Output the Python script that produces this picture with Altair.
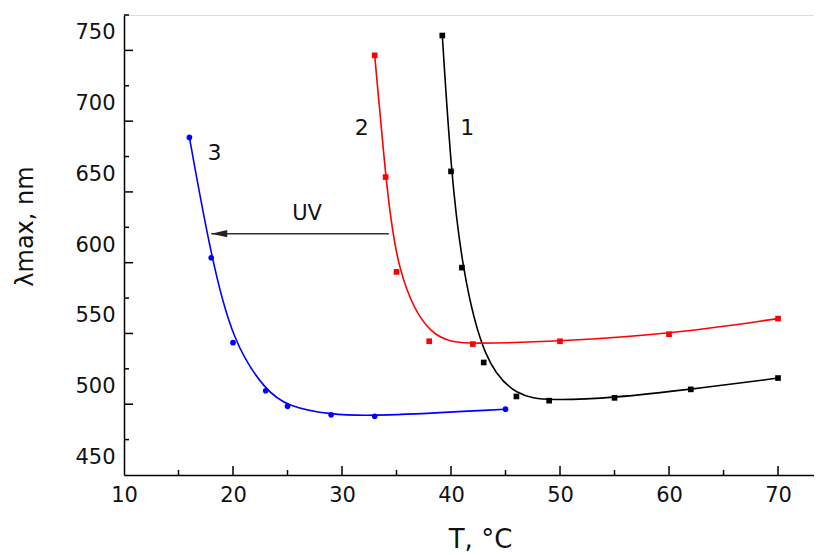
import altair as alt
import pandas as pd

# ---- data ----
black_x = [39.2, 40, 41, 43, 46, 49, 55, 62, 70]
black_y = [748, 652, 584, 517, 493, 490, 492, 498, 506]
red_x = [33, 34, 35, 38, 42, 50, 60, 70]
red_y = [734, 648, 581, 532, 530, 532, 537, 548]
blue_x = [16, 18, 20, 23, 25, 29, 33, 45]
blue_y = [676, 591, 531, 497, 486, 480, 479, 484]

series_names = ["1", "2", "3"]
series_colors = ["#000000", "#ff0000", "#0000ff"]
series_shapes = ["square", "square", "circle"]

label_text = ["1", "2", "3"]
label_x = [41.5, 31.8, 18.3]
label_y = [683, 683, 665]

uv_text = ["UV"]
uv_text_x = [26.8]
uv_text_y = [622]
uv_x = [18.0]
uv_x2 = [34.3]
uv_y = [608]

x_labels = [10, 20, 30, 40, 50, 60, 70]
y_labels = [450, 500, 550, 600, 650, 700, 750]
x_major_ticks = [20, 30, 40, 50, 60, 70]
x_minor_ticks = [15, 25, 35, 45, 55, 65]
y_major_ticks = [487.5, 537.5, 587.5, 637.5, 687.5, 737.5]
y_minor_ticks = [462.5, 512.5, 562.5, 612.5, 662.5, 712.5, 762.5]

X_DOMAIN = [10, 73.3]
Y_DOMAIN = [437.5, 762.5]
W, H = 690, 460

rows = []
for name, xs_, ys_ in zip(series_names, [black_x, red_x, blue_x], [black_y, red_y, blue_y]):
    for xv, yv in zip(xs_, ys_):
        rows.append({"s": name, "T": xv, "L": yv})
df = pd.DataFrame(rows)

FONT = "DejaVu Sans"

xs = alt.Scale(domain=X_DOMAIN, nice=False, zero=False)
ys = alt.Scale(domain=Y_DOMAIN, nice=False, zero=False)

x_axis = alt.Axis(values=x_labels, title="T, \u00b0C", ticks=False, grid=False,
                  labelFontSize=21, titleFontSize=26, labelPadding=9,
                  titleX=356, titleY=64, titleBaseline="middle", titleAnchor="middle",
                  titleFontWeight="normal", domainColor="#000", domainWidth=1.5,
                  labelColor="#111", titleColor="#111", labelFont=FONT, titleFont=FONT,
                  labelFlush=False)
y_axis = alt.Axis(values=y_labels, title="\u03bbmax, nm", ticks=False, grid=False,
                  labelFontSize=21, titleFontSize=24, labelPadding=9,
                  titleX=-99, titleY=211, titleBaseline="middle", titleAnchor="middle",
                  titleFontWeight="normal", domainColor="#000", domainWidth=1.5,
                  labelColor="#111", titleColor="#111", labelFont=FONT, titleFont=FONT,
                  labelFlush=False)

color = alt.Color("s:N", scale=alt.Scale(domain=series_names, range=series_colors), legend=None)
shape = alt.Shape("s:N", scale=alt.Scale(domain=series_names, range=series_shapes), legend=None)

base = alt.Chart(df)
lines = base.mark_line(interpolate="basis", strokeWidth=1.6).encode(
    x=alt.X("T:Q", scale=xs, axis=x_axis),
    y=alt.Y("L:Q", scale=ys, axis=y_axis),
    color=color,
    detail="s:N",
)
points = base.mark_point(filled=True, size=32, opacity=1).encode(
    x=alt.X("T:Q", scale=xs),
    y=alt.Y("L:Q", scale=ys),
    color=color,
    shape=shape,
)

labels = alt.Chart(pd.DataFrame({"x": label_x, "y": label_y, "t": label_text})).mark_text(
    fontSize=22, font=FONT, color="#111"
).encode(x=alt.X("x:Q", scale=xs), y=alt.Y("y:Q", scale=ys), text="t:N")

uvt = alt.Chart(pd.DataFrame({"x": uv_text_x, "y": uv_text_y, "t": uv_text})).mark_text(
    fontSize=21, font=FONT, color="#111"
).encode(x=alt.X("x:Q", scale=xs), y=alt.Y("y:Q", scale=ys), text="t:N")

uv_df = pd.DataFrame({"x": uv_x, "x2": uv_x2, "y": uv_y})
uv_line = alt.Chart(uv_df).mark_rule(color="#333", strokeWidth=1.6).encode(
    x=alt.X("x:Q", scale=xs), x2="x2:Q", y=alt.Y("y:Q", scale=ys)
)
uv_head = alt.Chart(uv_df).mark_point(
    shape="M 0 0 L 2 -0.45 L 2 0.45 Z", filled=True, size=256, color="#222", opacity=1
).encode(x=alt.X("x:Q", scale=xs), y=alt.Y("y:Q", scale=ys))

xmaj = alt.Chart(pd.DataFrame({"v": x_major_ticks})).mark_rule(color="#000", strokeWidth=1.5).encode(
    x=alt.X("v:Q", scale=xs), y=alt.value(H), y2=alt.value(H - 9))
xmin = alt.Chart(pd.DataFrame({"v": x_minor_ticks})).mark_rule(color="#000", strokeWidth=1.5).encode(
    x=alt.X("v:Q", scale=xs), y=alt.value(H), y2=alt.value(H - 5))
ymaj = alt.Chart(pd.DataFrame({"v": y_major_ticks})).mark_rule(color="#000", strokeWidth=1.5).encode(
    y=alt.Y("v:Q", scale=ys), x=alt.value(0), x2=alt.value(9))
ymin = alt.Chart(pd.DataFrame({"v": y_minor_ticks})).mark_rule(color="#000", strokeWidth=1.5).encode(
    y=alt.Y("v:Q", scale=ys), x=alt.value(0), x2=alt.value(5))

chart = alt.layer(lines, points, labels, uvt, uv_line, uv_head, xmaj, xmin, ymaj, ymin).properties(
    width=W, height=H,
    autosize=alt.AutoSizeParams(type="none"),
    padding={"left": 116, "top": 7, "right": 0, "bottom": 80},
).configure_view(stroke=None).configure(background="white")

chart.save("out.html", embed_options={"renderer": "svg", "actions": False})
